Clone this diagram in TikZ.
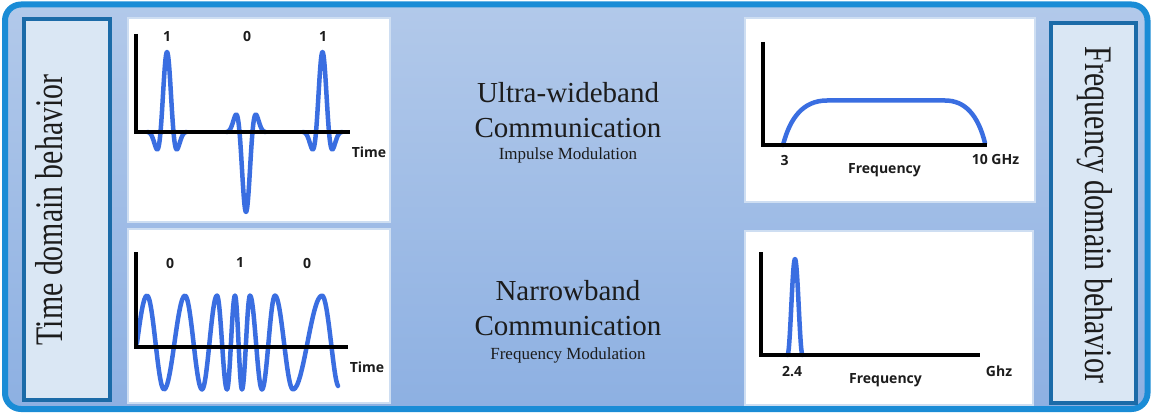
\documentclass[tikz,border=0pt]{standalone}
\usepackage{fontspec}
\setmainfont{Liberation Serif}
\newfontfamily\lblfont{Open Sans}
\definecolor{framecol}{RGB}{26,140,214}
\definecolor{boxedge}{RGB}{27,107,168}
\definecolor{boxfill}{RGB}{218,231,244}
\definecolor{bgtop}{RGB}{178,201,234}
\definecolor{bgbot}{RGB}{141,176,226}
\definecolor{wavecol}{RGB}{58,110,225}
\definecolor{panedge}{RGB}{206,222,242}
\definecolor{txt}{RGB}{28,28,28}
\begin{document}
\begin{tikzpicture}[x=1pt,y=-1pt,
  panel/.style={fill=white,draw=panedge,line width=1.5pt},
  sidebox/.style={fill=boxfill,draw=boxedge,line width=4pt},
  axisline/.style={line width=3.5pt,black,line join=miter},
  wavepath/.style={line width=4.5pt,wavecol,line cap=round,line join=round},
  bigtxt/.style={font=\fontsize{29}{33}\selectfont,text=txt,inner sep=0pt,anchor=base},
  smalltxt/.style={font=\fontsize{17}{20}\selectfont,text=txt,inner sep=0pt,anchor=base},
  sidetxt/.style={font=\fontsize{39}{44}\selectfont,text=txt,inner sep=0pt,anchor=base},
  lbl/.style={font=\lblfont\bfseries\fontsize{14}{16}\selectfont,text=txt,inner sep=0pt}
]
\useasboundingbox (0,0) rectangle (1155,414);
% frame
\draw[framecol,line width=6pt,rounded corners=16pt,top color=bgtop,bottom color=bgbot] (5,4.5) rectangle (1147.5,409);
% side boxes
\draw[sidebox] (24,19) rectangle (110,400);
\draw[sidebox] (1051,23) rectangle (1136,403);
\node[sidetxt,rotate=90] (tdb) at (62,210) {\scalebox{0.765}[1]{Time domain behavior}};
\node[sidetxt,rotate=-90] (fdb) at (1085,215) {\scalebox{0.768}[1]{Frequency domain behavior}};
% panels
\draw[panel] (128,18) rectangle (390,222);
\draw[panel] (128,229) rectangle (390,403);
\draw[panel] (745,18) rectangle (1035,202);
\draw[panel] (745,231) rectangle (1033,405);
% centre texts
\node[bigtxt] (uwb) at (568,103) {Ultra-wideband};
\node[bigtxt] (com1) at (568,138) {Communication};
\node[smalltxt] (imp) at (568,160) {Impulse Modulation};
\node[bigtxt] (nb) at (568,300.5) {Narrowband};
\node[bigtxt] (com2) at (568,335) {Communication};
\node[smalltxt] (fm) at (568,359) {Frequency Modulation};
% UWB time pulses
\draw[wavepath] plot[domain=-19.5:19.5,samples=81,smooth] ({167+\x},{132-80*cos(\x*360/26)*exp(-(\x*\x)/81)});
\draw[wavepath] plot[domain=-19.5:19.5,samples=81,smooth] ({246+\x},{132+80*cos(\x*360/26)*exp(-(\x*\x)/81)});
\draw[wavepath] plot[domain=-19.5:19.5,samples=81,smooth] ({322.5+\x},{132-80*cos(\x*360/26)*exp(-(\x*\x)/81)});
\draw[axisline] (136,34) -- (136,132) -- (350,132);
\node[lbl] (b1) at (167,37) {1};
\node[lbl] (b2) at (247,36) {0};
\node[lbl] (b3) at (323,37) {1};
\node[lbl] (t1) at (369,152.5) {Time};
% narrowband FM wave
\draw[wavepath] (137,343) .. controls (140.3,318.3) and (143.4,295.5) .. (147,295.5)
  .. controls +(6.19,0) and +(-6.19,0) .. (164,389.5)
  .. controls +(7.64,0) and +(-7.64,0) .. (185,295.5)
  .. controls +(6.19,0) and +(-6.19,0) .. (202,389.5)
  .. controls +(5.46,0) and +(-5.46,0) .. (217,295.5)
  .. controls +(3.64,0) and +(-3.64,0) .. (227,389.5)
  .. controls +(2.91,0) and +(-2.91,0) .. (235,295.5)
  .. controls +(2.55,0) and +(-2.55,0) .. (242,389.5)
  .. controls +(2.91,0) and +(-2.91,0) .. (250,295.5)
  .. controls +(4.37,0) and +(-4.37,0) .. (262,389.5)
  .. controls +(4.73,0) and +(-4.73,0) .. (275,295.5)
  .. controls +(6.55,0) and +(-6.55,0) .. (293,389.5)
  .. controls +(10.56,0) and +(-10.56,0) .. (322,295.5)
  .. controls +(6.19,0) and +(-5,-8) .. (338,386);
\draw[axisline] (136,252) -- (136,347) -- (348,347);
\node[lbl] (c1) at (170,263) {0};
\node[lbl] (c2) at (240,263) {1};
\node[lbl] (c3) at (307,263) {0};
\node[lbl] (t2) at (367,367) {Time};
% UWB spectrum
\draw[wavepath] (783,145) .. controls (790,118) and (803,100.5) .. (827,100.5) -- (945,100.5)
  .. controls (965,100.5) and (978,115) .. (985,143);
\draw[axisline] (763,42) -- (763,145) -- (987,145);
\node[lbl] (f3) at (784.5,160) {3};
\node[lbl] (fq1) at (884.5,170) {Frequency};
\node[lbl] (f10) at (995.5,159) {10 GHz};
% narrowband spectrum
\draw[wavepath] plot[domain=-7.5:7.5,samples=41,smooth] ({795+\x},{355-96*(0.5+0.5*cos(\x*180/7.5))});
\draw[axisline] (761,252) -- (761,355) -- (980,355);
\node[lbl] (f24) at (792,372) {2.4};
\node[lbl] (fq2) at (885.5,380) {Frequency};
\node[lbl] (fgh) at (999,371) {Ghz};
\end{tikzpicture}
\end{document}
